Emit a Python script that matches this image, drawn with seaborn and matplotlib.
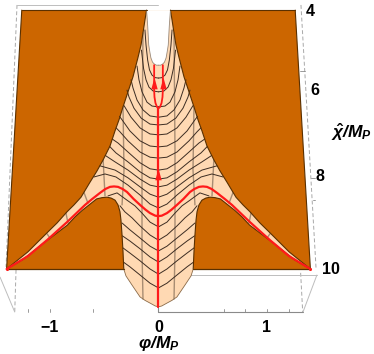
import numpy as np
import pandas as pd
import matplotlib
matplotlib.use("Agg")
import matplotlib.pyplot as plt
import seaborn as sns

# ---- values (phi/M_P, chi/M_P as projected on screen) ----
corner_phi_top = 1.26
corner_phi_bottom = 1.40
chi_top = 3.98
chi_edge = 10.0

upper_phi = [-0.11, -0.125, -0.143, -0.161, -0.19, -0.235, -0.281, -0.327, -0.364, -0.401, -0.447, -0.512, -0.567, -0.631, -0.714, -0.779, -0.843, -0.935, -1.028, -1.203, -1.40]
upper_chi = [3.98, 4.21, 4.51, 4.79, 5.09, 5.53, 5.88, 6.23, 6.53, 6.79, 7.14, 7.47, 7.72, 7.98, 8.33, 8.51, 8.67, 8.93, 9.16, 9.60, 10.0]
lower_phi = [-1.40, -1.25, -1.06, -0.95, -0.84, -0.77, -0.70, -0.63, -0.57, -0.52, -0.475, -0.437, -0.40, -0.373, -0.355, -0.346, -0.336, -0.327, -0.32, -0.30, -0.245, -0.17, -0.124, -0.08, -0.03, 0.0]
lower_chi = [10.0, 9.78, 9.40, 9.19, 8.98, 8.79, 8.63, 8.49, 8.37, 8.34, 8.33, 8.35, 8.40, 8.51, 8.67, 8.86, 9.21, 9.60, 10.0, 10.16, 10.37, 10.65, 10.73, 10.79, 10.86, 10.88]
notch_phi = [-0.11, -0.10, -0.094, -0.09, -0.08, -0.07, -0.055, -0.04, -0.02, 0.0]
notch_chi = [3.98, 4.33, 4.60, 4.79, 4.95, 5.09, 5.19, 5.23, 5.26, 5.26]

red_wave_phi = [-1.40, -1.203, -1.028, -0.843, -0.677, -0.61, -0.539, -0.49, -0.447, -0.41, -0.373, -0.33, -0.29, -0.23, -0.17, -0.12, -0.078, -0.03, 0.0]
red_wave_chi = [10.0, 9.70, 9.33, 8.91, 8.51, 8.37, 8.23, 8.14, 8.09, 8.08, 8.09, 8.14, 8.21, 8.37, 8.51, 8.62, 8.70, 8.76, 8.77]
red_fork_phi = [0.0, -0.014, -0.028, -0.037, -0.04, -0.04]
red_fork_chi = [6.26, 6.23, 6.14, 6.0, 5.84, 5.26]
red_axis_chi = [6.26, 10.88]
arrow_phi = [0.0, -0.04, 0.04]
arrow_chi = [7.79, 5.67, 5.67]

contours = [
    ([0, -.03, -.06, -.083, -.10, -.115, -.125], [5.56, 5.55, 5.49, 5.37, 5.14, 4.79, 4.44]),
    ([0, -.05, -.088, -.115, -.138, -.157], [5.88, 5.86, 5.77, 5.60, 5.33, 4.91]),
    ([0, -.06, -.106, -.152, -.18, -.198], [6.23, 6.21, 6.12, 5.88, 5.60, 5.28]),
    ([0, -.078, -.143, -.198, -.235, -.253], [6.47, 6.44, 6.30, 6.07, 5.79, 5.60]),
    ([0, -.078, -.16, -.226, -.272, -.29], [6.65, 6.63, 6.49, 6.26, 6.0, 5.84]),
    ([0, -.078, -.17, -.253, -.318], [6.88, 6.86, 6.72, 6.47, 6.20]),
    ([0, -.078, -.17, -.263, -.336, -.36], [7.16, 7.14, 7.02, 6.79, 6.53, 6.45]),
    ([0, -.078, -.17, -.281, -.355, -.39], [7.42, 7.40, 7.28, 7.02, 6.81, 6.72]),
    ([0, -.078, -.17, -.281, -.373, -.425], [7.70, 7.67, 7.53, 7.28, 7.07, 6.98]),
    ([0, -.078, -.17, -.281, -.392, -.45], [7.91, 7.88, 7.74, 7.51, 7.30, 7.15]),
    ([0, -.078, -.17, -.281, -.40, -.49], [8.09, 8.05, 7.91, 7.70, 7.51, 7.36]),
    ([0, -.078, -.17, -.281, -.40, -.54], [8.33, 8.26, 8.09, 7.88, 7.70, 7.60]),
    ([0, -.078, -.17, -.281, -.392, -.493, -.595], [8.58, 8.49, 8.28, 8.05, 7.86, 7.79, 7.86]),
    ([0, -.078, -.152, -.217, -.29, -.382, -.465], [9.02, 8.91, 8.70, 8.53, 8.40, 8.23, 8.30]),
    ([0, -.078, -.17, -.244, -.31, -.355], [9.33, 9.21, 9.0, 8.81, 8.67, 8.53]),
    ([0, -.078, -.17, -.263, -.336], [9.58, 9.47, 9.28, 9.09, 8.93]),
    ([0, -.078, -.17, -.263, -.332], [9.84, 9.72, 9.53, 9.35, 9.23]),
    ([0, -.078, -.17, -.263, -.327], [10.12, 10.0, 9.81, 9.63, 9.51]),
    ([0, -.078, -.17, -.263, -.323], [10.44, 10.33, 10.14, 9.95, 9.84]),
]
mesh_lines = [
    ([-0.143, -0.152, -0.152, -0.143], [4.51, 7.23, 9.56, 10.70]),
    ([-0.327, -0.318, -0.336], [6.23, 7.70, 8.51]),
    ([-0.51, -0.493], [7.47, 8.30]),
    ([-0.687, -0.65], [8.22, 8.47]),
    ([-0.853, -0.834], [8.70, 8.93]),
    ([-1.028, -1.0], [9.18, 9.28]),
]

box_solid = [
    ([-1.304, 0.0], [3.86, 3.86]),
    ([0.0, 1.46], [10.14, 10.14]),
    ([1.46, 1.332], [10.14, 11.0]),
    ([-1.46, -1.325], [10.19, 11.0]),
    ([0.0, 0.18], [5.16, 5.16]),
]
box_dashed = [
    ([1.313, 1.452], [3.86, 9.98]),
    ([-1.304, -1.405], [3.86, 9.95]),
    ([1.31, 1.329], [10.09, 11.0]),
    ([-1.313, -1.325], [10.02, 11.0]),
]
front_phi = [0.0, 1.33]
front_chi = [11.0, 11.0]
phi_minor = [-1.2, -1.0, -0.6, 0.6, 0.8, 1.0, 1.2]
chi_tick_pos = [(5.4, 1.30, 1.35), (7.88, 1.405, 1.44), (8.40, 1.42, 1.44)]

phi_ticks = [-1, 0, 1]
phi_labels = ["\u22121", "0", "1"]
chi_labels = ["4", "6", "8", "10"]
chi_label_phi = [1.40, 1.44, 1.49, 1.59]
chi_label_y = [4.02, 5.86, 7.86, 10.02]

# ---- styling ----
sns.set_theme(style="white")
plt.rcParams["font.family"] = ["Liberation Sans", "DejaVu Sans"]
plt.rcParams["mathtext.fontset"] = "custom"
plt.rcParams["mathtext.it"] = "Liberation Sans:italic:bold"
plt.rcParams["mathtext.rm"] = "Liberation Sans:bold"
plt.rcParams["mathtext.bf"] = "Liberation Sans:bold"

ORANGE = "#CC6600"
PEACH = "#FFD9B3"
EDGE = "#5A3000"
RED = "#FF1A1A"
SPLIT = 19

fig = plt.figure(figsize=(3.74, 3.54), dpi=100)
ax = fig.add_axes([0, 0, 1, 1])
ax.set_xlim(-1.4608, 1.9862)
ax.set_ylim(11.977, 3.744)
ax.axis("off")


def mirrored(phi, chi):
    phi = np.asarray(phi, float)
    chi = np.asarray(chi, float)
    return np.r_[phi, -phi[::-1]], np.r_[chi, chi[::-1]]


def line(x, y, **kw):
    frame = pd.DataFrame({"x": x, "y": y})
    kw.setdefault("solid_capstyle", "round")
    sns.lineplot(data=frame, x="x", y="y", sort=False, estimator=None, ax=ax,
                 legend=False, **kw)


def both(x, y, **kw):
    line(x, y, **kw)
    line(-np.asarray(x, float), y, **kw)


# surface
ax.fill([-corner_phi_top, corner_phi_top, corner_phi_bottom, -corner_phi_bottom],
        [chi_top, chi_top, chi_edge, chi_edge], color=ORANGE, lw=0, zorder=1)
out_phi = np.r_[upper_phi, lower_phi[1:]]
out_chi = np.r_[upper_chi, lower_chi[1:]]
px, py = mirrored(out_phi, out_chi)
ax.fill(px, py, color=PEACH, lw=0, zorder=2)
nx, ny = mirrored(notch_phi, notch_chi)
ax.fill(nx, ny, color="white", lw=0, zorder=3)

# box
for x, y in box_solid:
    line(x, y, color="#BDBDBD", lw=0.7, zorder=1)
for x, y in box_dashed:
    line(x, y, color="#A8A8A8", lw=0.7, linestyle=(0, (4, 2.5)), zorder=0.5)
line(front_phi, front_chi, color="#8A8A8A", lw=0.8, zorder=1)
line([0, 0], [10.88, 11.0], color="#8A8A8A", lw=0.8, zorder=1)
for p in phi_minor:
    line([p, p], [11.0, 10.94], color="#8A8A8A", lw=0.6, zorder=1)
for c, a, b in chi_tick_pos:
    line([a, b], [c, c], color="#8A8A8A", lw=0.6, zorder=1)

# mesh
for x, y in mesh_lines:
    both(x, y, color="#6E5A48", lw=1.0, alpha=0.6, zorder=4)
for x, y in contours:
    both(x, y, color="#3C2C22", lw=0.7, zorder=5)

# surface outline
both(upper_phi, upper_chi, color=EDGE, lw=0.8, zorder=6)
both(lower_phi[:SPLIT], lower_chi[:SPLIT], color=EDGE, lw=0.8, zorder=6)
both(lower_phi[SPLIT - 1:], lower_chi[SPLIT - 1:], color="#8A6A48", lw=0.6, zorder=6)
both(notch_phi, notch_chi, color="#9A8A7A", lw=0.6, zorder=6)
both([-corner_phi_top, upper_phi[0]], [chi_top, chi_top], color=EDGE, lw=0.8, zorder=6)
both([-corner_phi_top, -corner_phi_bottom], [chi_top, chi_edge], color=EDGE, lw=0.8, zorder=6)
both([-corner_phi_bottom, lower_phi[SPLIT - 1]], [chi_edge, chi_edge], color=EDGE, lw=0.9, zorder=6)

# trajectories
wx, wy = mirrored(red_wave_phi, red_wave_chi)
line(wx, wy, color=RED, lw=1.6, zorder=8)
line([0, 0], red_axis_chi, color=RED, lw=1.6, zorder=8)
both(red_fork_phi, red_fork_chi, color=RED, lw=1.3, zorder=8)
triangle = [(-0.55, -1.0), (0.55, -1.0), (0.0, 1.0)]
sns.scatterplot(x=arrow_phi, y=arrow_chi, ax=ax, marker=triangle, s=70, color=RED,
                linewidth=0, zorder=9, legend=False)
sns.scatterplot(x=[-1.40, 1.40], y=[10.0, 10.0], ax=ax, marker="o", s=5, color=RED,
                linewidth=0, zorder=9, legend=False)

# text
FS = 11.5
for p, t in zip(phi_ticks, phi_labels):
    ax.text(p, 11.37, t, ha="center", va="center", fontsize=FS, fontweight="bold", color="black")
for p, c, t in zip(chi_label_phi, chi_label_y, chi_labels):
    ax.text(p, c, t, ha="center", va="center", fontsize=FS, fontweight="bold", color="black")
ax.text(0.0, 11.74, r"$\varphi$/$M_P$", ha="center", va="center", fontsize=12.5,
        fontweight="bold", fontstyle="italic", color="black")
ax.text(1.775, 6.83, r"$\hat{\chi}$/$M_P$", ha="center", va="center", fontsize=12.5,
        fontweight="bold", fontstyle="italic", color="black")

fig.savefig("out.png", dpi=100, facecolor="white")
